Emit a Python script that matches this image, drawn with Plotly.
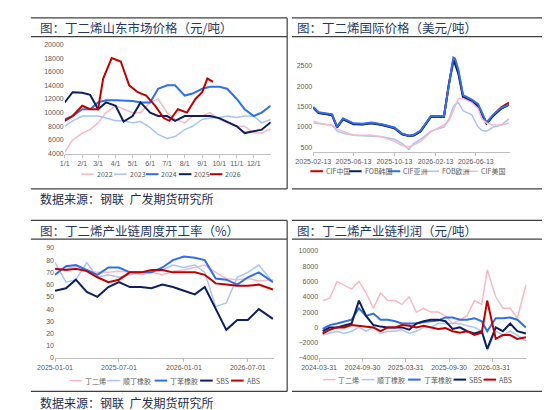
import plotly.graph_objects as go

W, H = 550, 410
def X(p): return p / W
def Y(p): return 1 - p / H

FONT = "Noto Sans CJK SC"

# ---- panel 1: 山东市场价格 (day of year)
doy = [1, 15, 32, 46, 60, 74, 91, 105, 121, 135, 152, 166, 182, 196, 213, 227, 244, 258, 274, 288, 305, 319, 335, 349, 365]
p2022 = [4200, 6000, 7000, 7500, 8500, 10000, 11000, 10500, 10000, 10000, 11500, 12000, 10000, 9000, 8500, 9500, 9500, 10000, 9000, 8500, 8000, 8000, 7000, 7000, 7600]
p2023 = [8000, 8800, 9500, 9500, 9500, 9200, 8800, 8800, 8500, 8700, 7800, 6800, 6200, 6500, 7500, 8000, 9000, 9200, 9300, 9500, 9300, 9500, 9500, 8500, 9000]
p2024 = [9000, 9500, 10500, 10500, 11500, 11800, 11800, 11800, 11700, 11500, 11500, 13500, 14000, 14000, 12500, 12800, 13500, 13800, 13800, 13500, 12000, 10500, 9500, 10000, 11000]
p2025 = [11500, 13000, 12900, 12600, 10500, 11500, 11000, 8700, 9500, 11500, 10000, 9500, 9500, 8800, 9500, 9500, 9500, 9500, 9200, 8700, 8000, 7000, 7300, 7500, 8600]
doy2026 = [1, 15, 32, 46, 60, 69, 84, 100, 115, 130, 145, 161, 176, 186, 201, 217, 232, 244, 253, 263]
p2026 = [8800, 9500, 11000, 10500, 10500, 15000, 18000, 17500, 14000, 13000, 12500, 11000, 9200, 8800, 10500, 10000, 12000, 13000, 15000, 14500]
month_days = [1, 32, 60, 91, 121, 152, 182, 213, 244, 274, 305, 335]
month_labels = ["1/1", "2/1", "3/1", "4/1", "5/1", "6/1", "7/1", "8/1", "9/1", "10/1", "11/1", "12/1"]

# ---- panel 2: 国际价格
d2 = ["2025-02-13", "2025-03-01", "2025-03-25", "2025-04-10", "2025-04-25", "2025-05-13", "2025-06-13", "2025-07-10",
      "2025-08-05", "2025-09-05", "2025-10-13", "2025-11-05", "2025-11-25", "2025-12-10", "2025-12-30", "2026-01-30",
      "2026-03-10", "2026-03-25", "2026-04-07", "2026-04-12", "2026-04-22", "2026-05-06", "2026-06-01", "2026-06-20",
      "2026-07-01", "2026-07-15", "2026-08-05", "2026-08-28", "2026-09-20"]
cif_cn = [1480, 1350, 1320, 1300, 1000, 1200, 1080, 1070, 1100, 1060, 980, 830, 790, 800, 900, 1260, 1260, 2080, 2650, 2580, 2350, 1750, 1650, 1520, 1330, 1100, 1300, 1480, 1600]
fob_kr = [1470, 1340, 1310, 1290, 990, 1190, 1070, 1060, 1090, 1050, 970, 820, 780, 790, 890, 1250, 1250, 2050, 2600, 2550, 2300, 1720, 1630, 1500, 1310, 1080, 1280, 1450, 1540]
cif_as = [1490, 1360, 1330, 1310, 1010, 1210, 1090, 1080, 1110, 1070, 990, 840, 790, 810, 910, 1270, 1270, 2100, 2700, 2680, 2400, 1780, 1670, 1560, 1350, 1110, 1310, 1470, 1550]
fob_eu = [1100, 1080, 1060, 1050, 900, 850, 800, 790, 780, 760, 700, 600, 450, 600, 700, 900, 1000, 1200, 1500, 1550, 1600, 1400, 1300, 1000, 920, 900, 1000, 1050, 1200]
cif_us = [1150, 1100, 1060, 1050, 950, 900, 800, 800, 800, 760, 650, 550, 520, 560, 650, 880, 1050, 1150, 1400, 1500, 1700, 1700, 1600, 1450, 1200, 1100, 1050, 1050, 1100]
ticks2 = ["2025-02-13", "2025-06-13", "2025-10-13", "2026-02-13", "2026-06-13"]

# ---- panel 3: 开工率
d3 = ["2025-01-01", "2025-02-01", "2025-03-01", "2025-04-01", "2025-05-01", "2025-06-01", "2025-07-01", "2025-08-01",
      "2025-09-01", "2025-10-01", "2025-11-01", "2025-12-01", "2026-01-01", "2026-02-01", "2026-03-01", "2026-04-01",
      "2026-05-01", "2026-06-01", "2026-07-01", "2026-08-01", "2026-09-10"]
r_bd = [72, 73, 75, 72, 70, 70, 71, 70, 68, 70, 68, 71, 72, 74, 76, 70, 65, 64, 65, 63, 64]
r_br = [78, 62, 64, 78, 66, 68, 66, 68, 70, 70, 72, 76, 74, 76, 70, 42, 45, 66, 70, 76, 62]
r_sbr = [68, 75, 76, 72, 68, 74, 74, 70, 70, 70, 74, 80, 83, 82, 80, 65, 64, 60, 66, 70, 62]
r_sbs = [55, 57, 64, 54, 50, 58, 62, 58, 58, 57, 60, 58, 55, 52, 58, 40, 23, 31, 31, 40, 32]
r_abs = [73, 72, 73, 71, 66, 62, 64, 70, 70, 72, 72, 70, 70, 70, 68, 61, 60, 59, 59, 60, 56]
ticks3 = ["2025-01-01", "2025-07-01", "2026-01-01", "2026-07-01"]

# ---- panel 4: 利润
d4 = ["2024-04-15", "2024-05-15", "2024-06-15", "2024-07-15", "2024-08-15", "2024-09-15", "2024-10-15", "2024-11-15",
      "2024-12-15", "2025-01-15", "2025-02-15", "2025-03-15", "2025-04-15", "2025-05-15", "2025-06-15", "2025-07-15",
      "2025-08-15", "2025-09-15", "2025-10-15", "2025-11-15", "2025-12-15", "2026-01-15", "2026-02-15", "2026-03-10",
      "2026-04-15", "2026-05-15", "2026-06-15", "2026-07-15", "2026-08-20"]
m_bd = [3500, 3800, 6000, 5500, 5000, 6000, 4500, 2500, 4500, 3500, 3500, 3000, 4000, 2000, 2500, 2000, 2000, 1500, 500, 1000, 1500, 3500, 3000, 7500, 4000, 2500, 2500, 1200, 5500]
m_br = [-1000, -800, -500, -800, -500, 0, -500, 0, -800, -500, -500, -300, -800, -500, 0, 0, 500, 500, 500, 500, 200, 0, -500, -3000, -500, -1000, -500, -1000, -1800]
m_sbr = [-200, 300, 500, 700, 1000, 2500, 1500, 1800, 1000, 1000, 800, 500, 500, 500, 700, 800, 900, 1300, 1300, 1000, 1000, 1200, 800, -500, 1200, 1200, 1300, 1000, 0]
m_sbs = [-500, 0, 0, 200, 500, 3500, 1500, 300, 100, 0, 0, 0, -300, 500, 800, 1000, 1000, 800, -200, 0, -500, -800, -500, -2800, 0, -500, 500, -500, -800]
m_abs = [-800, -300, 0, 0, 300, 200, 100, 0, -500, 0, 0, 300, 200, 0, 200, 0, -200, -100, -500, -700, -500, -1000, -700, 3500, -1500, -1000, -1000, -1500, -1300]
ticks4 = ["2024-03-31", "2024-09-30", "2025-03-31", "2025-09-30", "2026-03-31"]

PINK, LBLUE, BLUE, NAVY, RED = "#f7b9c6", "#a9c4f5", "#2f6fe8", "#0d1f5c", "#c00000"

fig = go.Figure()
shapes = []
annots = []
def add(x, y, name, color, w, xa, ya):
    fig.add_trace(go.Scatter(x=x, y=y, name=name, mode="lines", line=dict(color=color, width=w),
                             xaxis=xa, yaxis=ya, showlegend=False))

# hand-drawn compact legend rows (the Excel-style legend is tighter than plotly's)
def legend_row(items, xs, ypx):
    for (name, color, w), x0 in zip(items, xs):
        shapes.append(dict(type="line", xref="paper", yref="paper", x0=X(x0), x1=X(x0 + 13), y0=Y(ypx), y1=Y(ypx),
                           line=dict(color=color, width=w)))
        annots.append(dict(x=X(x0 + 14), y=Y(ypx), xref="paper", yref="paper", text=name, showarrow=False,
                           xanchor="left", yanchor="middle", font=dict(size=7, family=FONT, color="#595959")))

p1 = [("2022", PINK, 1.5), ("2023", LBLUE, 1.5), ("2024", BLUE, 2), ("2025", NAVY, 2), ("2026", RED, 2)]
for (n, c, w), y in zip(p1, [p2022, p2023, p2024, p2025]):
    add(doy, y, n, c, w, "x", "y")
add(doy2026, p2026, "2026", RED, 2, "x", "y")
legend_row(p1, [57, 91, 124, 158, 190], 165)

p2 = [("CIF中国", RED, 2), ("FOB韩国", NAVY, 2), ("CIF亚洲", BLUE, 2), ("FOB欧洲", LBLUE, 1.5), ("CIF美国", PINK, 1.5)]
for (n, c, w), y in zip(p2, [cif_cn, fob_kr, cif_as, fob_eu, cif_us]):
    add(d2, y, n, c, w, "x2", "y2")
legend_row(p2, [294, 334, 374, 414, 454], 162)

p3 = [("丁二烯", PINK, 1.5), ("顺丁橡胶", LBLUE, 1.5), ("丁苯橡胶", BLUE, 2), ("SBS", NAVY, 2), ("ABS", RED, 2)]
for (n, c, w), y in zip(p3, [r_bd, r_br, r_sbr, r_sbs, r_abs]):
    add(d3, y, n, c, w, "x3", "y3")
legend_row(p3, [45, 84, 133, 180, 212], 375)

for (n, c, w), y in zip(p3, [m_bd, m_br, m_sbr, m_sbs, m_abs]):
    add(d4, y, n, c, w, "x4", "y4")
legend_row(p3, [307, 347, 395, 442, 473], 374)

tf = dict(size=7, color="#595959", family="Liberation Sans")
xbase = dict(showgrid=False, zeroline=False, showline=True, linecolor="#bfbfbf", ticks="outside",
             ticklen=3, tickcolor="#bfbfbf", tickfont=tf, tickangle=0)
ybase = dict(showgrid=False, zeroline=False, showline=False, tickfont=tf, tickformat="d")

fig.update_layout(
    width=W, height=H, margin=dict(l=0, r=0, t=0, b=0), paper_bgcolor="white", plot_bgcolor="white",
    showlegend=False,
    xaxis=dict(xbase, domain=[X(40), X(253)], range=[1, 365], tickvals=month_days, ticktext=month_labels),
    yaxis=dict(ybase, domain=[Y(144), Y(33)], range=[4000, 20000], dtick=2000, anchor="x"),
    xaxis2=dict(xbase, domain=[X(297), X(500)], range=["2025-02-13", "2026-09-22"], tickvals=ticks2, ticktext=ticks2, anchor="y2"),
    yaxis2=dict(ybase, domain=[Y(142), Y(38)], range=[400, 2900], dtick=500, anchor="x2"),
    xaxis3=dict(xbase, domain=[X(30), X(256)], range=["2025-01-01", "2026-09-12"], tickvals=ticks3, ticktext=ticks3, anchor="y3"),
    yaxis3=dict(ybase, domain=[Y(352), Y(240)], range=[0, 90], dtick=10, anchor="x3"),
    xaxis4=dict(xbase, domain=[X(303), X(518)], range=["2024-03-31", "2026-08-25"], tickvals=ticks4, ticktext=ticks4, anchor="y4"),
    yaxis4=dict(ybase, domain=[Y(352), Y(243)], range=[-4000, 10000], dtick=2000, anchor="x4"),
)

hdr = dict(size=12.5, family=FONT, color="#1f3864")
titles = [(X(12), Y(16), "图：丁二烯山东市场价格（元/吨）"), (X(278), Y(16), "图：丁二烯国际价格（美元/吨）"),
          (X(12), Y(222), "图：丁二烯产业链周度开工率（%）"), (X(278), Y(222), "图：丁二烯产业链利润（元/吨）")]
for x, y, t in titles:
    annots.append(dict(x=x, y=y, xref="paper", yref="paper", text=t, showarrow=False, xanchor="left", yanchor="middle", font=hdr))
for y in [Y(190), Y(397)]:
    annots.append(dict(x=X(12), y=y, xref="paper", yref="paper", text="数据来源：钢联  广发期货研究所", showarrow=False,
                       xanchor="left", yanchor="middle", font=dict(size=12, family=FONT, color="#1f2d4a")))

line = dict(color="#404040", width=1.2)
for x0, x1, yt in [(5, 270, 6), (275, 540, 6), (5, 270, 212), (275, 540, 212)]:
    for dy in (0, 19, 174):
        shapes.append(dict(type="line", xref="paper", yref="paper", x0=X(x0), x1=X(x1), y0=Y(yt + dy), y1=Y(yt + dy), line=line))
shapes.append(dict(type="line", xref="paper", yref="paper", x0=X(270), x1=X(270), y0=Y(6), y1=Y(180), line=line))
shapes.append(dict(type="line", xref="paper", yref="paper", x0=X(270), x1=X(270), y0=Y(212), y1=Y(386), line=line))
fig.update_layout(shapes=shapes, annotations=annots)

fig.write_html("out.html")
